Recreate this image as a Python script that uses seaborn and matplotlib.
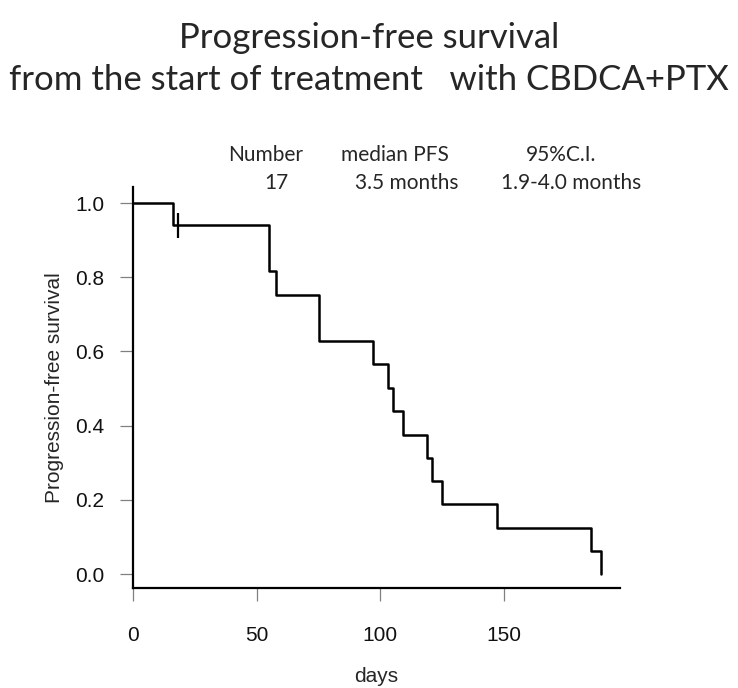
import matplotlib
matplotlib.use("Agg")
import matplotlib.pyplot as plt
import seaborn as sns
import pandas as pd

# Data
time_days = [0, 16, 55, 58, 75, 97, 103, 105, 109, 119, 121, 125, 147, 185, 189]
survival = [1.0, 0.941, 0.816, 0.753, 0.627, 0.565, 0.502, 0.439, 0.376, 0.314,
            0.251, 0.188, 0.125, 0.063, 0.0]
censor_days = [18]
censor_surv = [0.941]
x_ticks = [0, 50, 100, 150]
y_ticks = [0.0, 0.2, 0.4, 0.6, 0.8, 1.0]
stats_headers = ["Number", "median PFS", "95%C.I."]
stats_values = ["17", "3.5 months", "1.9-4.0 months"]

sns.set_theme(style="white")
plt.rcParams['font.family'] = ['Liberation Sans', 'DejaVu Sans']

fig = plt.figure(figsize=(7.38, 6.88), dpi=100)
ax = fig.add_axes([0.1802, 0.1453, 0.6598, 0.5827])

df = pd.DataFrame({"days": time_days, "surv": survival})
sns.lineplot(data=df, x="days", y="surv", ax=ax, estimator=None, sort=False,
             drawstyle="steps-post", color="black", linewidth=1.8)
cdf = pd.DataFrame({"days": censor_days, "surv": censor_surv})
ax.plot(cdf["days"], cdf["surv"], linestyle="none", marker="|", markersize=18,
        markeredgewidth=1.6, color="black")

ax.set_xlim(0, 196.8)
ax.set_ylim(-0.0377, 1.043)
ax.set_xticks(x_ticks)
ax.set_yticks(y_ticks)
ax.set_xticklabels([str(v) for v in x_ticks])
ax.set_yticklabels([f"{v:.1f}" for v in y_ticks])
for s in ["top", "right"]:
    ax.spines[s].set_visible(False)
for s in ["left", "bottom"]:
    ax.spines[s].set_color("black")
    ax.spines[s].set_linewidth(1.6)
ax.tick_params(axis="both", which="major", direction="out", bottom=True, left=True,
               width=0.9, color="#808080", labelsize=15, labelcolor="#111111")
ax.tick_params(axis="x", length=9, pad=18)
ax.tick_params(axis="y", length=9.5, pad=11)
ax.set_xlabel("days", fontsize=15, labelpad=16)
ax.set_ylabel("Progression-free survival", fontsize=15, labelpad=8)

fig.text(0.5, 0.945, "Progression-free survival", ha="center", va="center",
         fontsize=25, family=["Lato", "DejaVu Sans"])
fig.text(0.5, 0.883, "from the start of treatment   with CBDCA+PTX", ha="center",
         va="center", fontsize=25, family=["Lato", "DejaVu Sans"])

xs = [266 / 738, 395 / 738, 561 / 738]
xs2 = [276 / 738, 407 / 738, 571 / 738]
for x, h in zip(xs, stats_headers):
    fig.text(x, 1 - 155 / 688, h, ha="center", va="center", fontsize=15,
             family=["Lato", "DejaVu Sans"])
for x, v in zip(xs2, stats_values):
    fig.text(x, 1 - 183 / 688, v, ha="center", va="center", fontsize=15,
             family=["Lato", "DejaVu Sans"])

fig.savefig("out.png", dpi=100)
